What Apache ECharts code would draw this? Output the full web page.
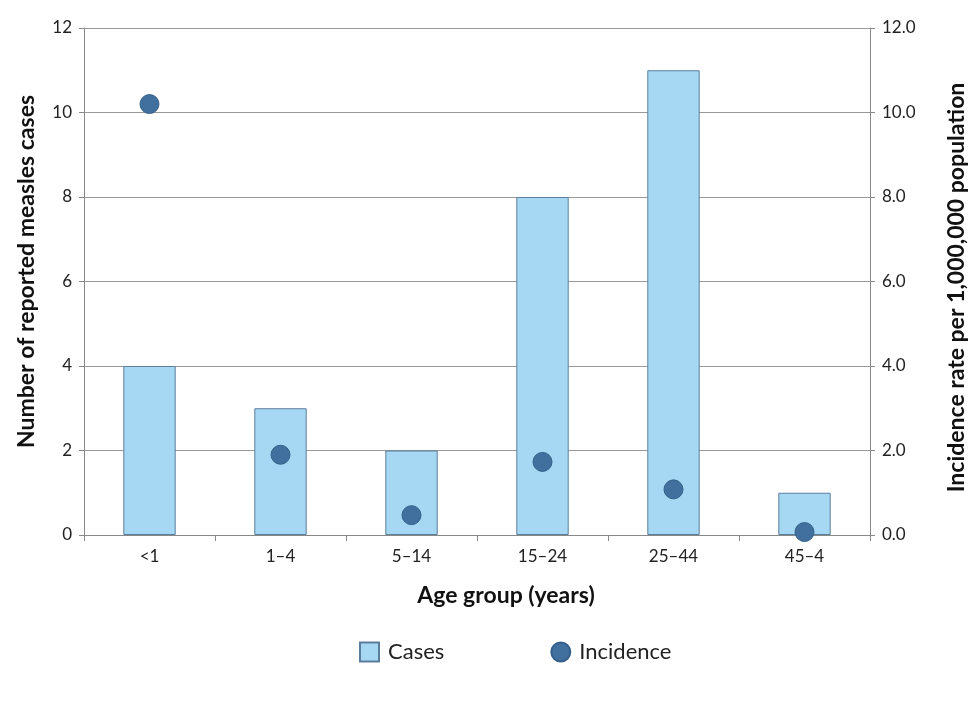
<!DOCTYPE html>
<html>
<head>
<meta charset="utf-8">
<script src="https://cdn.jsdelivr.net/npm/echarts@6/dist/echarts.min.js"></script>
<style>html,body{margin:0;padding:0;background:#fff}#c{width:980px;height:710px}</style>
</head>
<body>
<div id="c"></div>
<script>
const categories = ['<1', '1–4', '5–14', '15–24', '25–44', '45–4'];
const cases = [4, 3, 2, 8, 11, 1];
const incidence = [10.2, 1.9, 0.47, 1.73, 1.08, 0.07];

const font = 'Lato, "Noto Sans", sans-serif';
const chart = echarts.init(document.getElementById('c'));
chart.setOption({
  animation: false,
  grid: { left: 84, right: 110, top: 28, bottom: 175 },
  legend: {
    top: 636, left: 354, itemGap: 106,
    itemWidth: 19, itemHeight: 19,
    textStyle: { fontFamily: font, fontSize: 22, color: '#222', padding: [0, 0, 0, 4] },
    data: [
      { name: 'Cases', icon: 'rect' },
      { name: 'Incidence', icon: 'circle' }
    ]
  },
  xAxis: {
    type: 'category', data: categories,
    name: 'Age group (years)', nameLocation: 'middle', nameGap: 49,
    nameTextStyle: { fontFamily: font, fontSize: 23, fontWeight: 'bold', color: '#111', padding: [0, 0, 0, 58] },
    axisLine: { lineStyle: { color: '#888' } },
    axisTick: { show: true, length: 6, lineStyle: { color: '#888' } },
    axisLabel: { fontFamily: font, fontSize: 17, color: '#222', margin: 13 }
  },
  yAxis: [
    {
      type: 'value', min: 0, max: 12, interval: 2,
      name: 'Number of reported measles cases', nameLocation: 'middle', nameGap: 46,
      nameTextStyle: { fontFamily: font, fontSize: 23, fontWeight: 'bold', color: '#111', padding: [0, 0, 0, 20] },
      axisLine: { show: true, lineStyle: { color: '#888' } },
      axisTick: { show: true, length: 5, lineStyle: { color: '#888' } },
      axisLabel: { fontFamily: font, fontSize: 17, color: '#222', margin: 12 },
      splitLine: { lineStyle: { color: '#999' } }
    },
    {
      type: 'value', min: 0, max: 12, interval: 2, position: 'right',
      name: 'Incidence rate per 1,000,000 population', nameLocation: 'middle', nameGap: 75,
      nameRotate: 90,
      nameTextStyle: { fontFamily: font, fontSize: 23, fontWeight: 'bold', color: '#111', padding: [0, 12, 0, 0] },
      axisLine: { show: true, lineStyle: { color: '#888' } },
      axisTick: { show: true, length: 5, lineStyle: { color: '#888' } },
      axisLabel: { fontFamily: font, fontSize: 17, color: '#222', margin: 12, formatter: v => v.toFixed(1) },
      splitLine: { show: false }
    }
  ],
  series: [
    {
      name: 'Cases', type: 'bar', data: cases, barWidth: '40%', z: 3,
      itemStyle: { color: '#a6d7f3', borderColor: '#5a7f9c', borderWidth: 1 }
    },
    {
      name: 'Incidence', type: 'scatter', yAxisIndex: 1, data: incidence,
      symbol: 'circle', symbolSize: 19, z: 4,
      itemStyle: { color: '#41709f', borderColor: '#36608a', borderWidth: 1, opacity: 1 }
    }
  ]
});
</script>
</body>
</html>
